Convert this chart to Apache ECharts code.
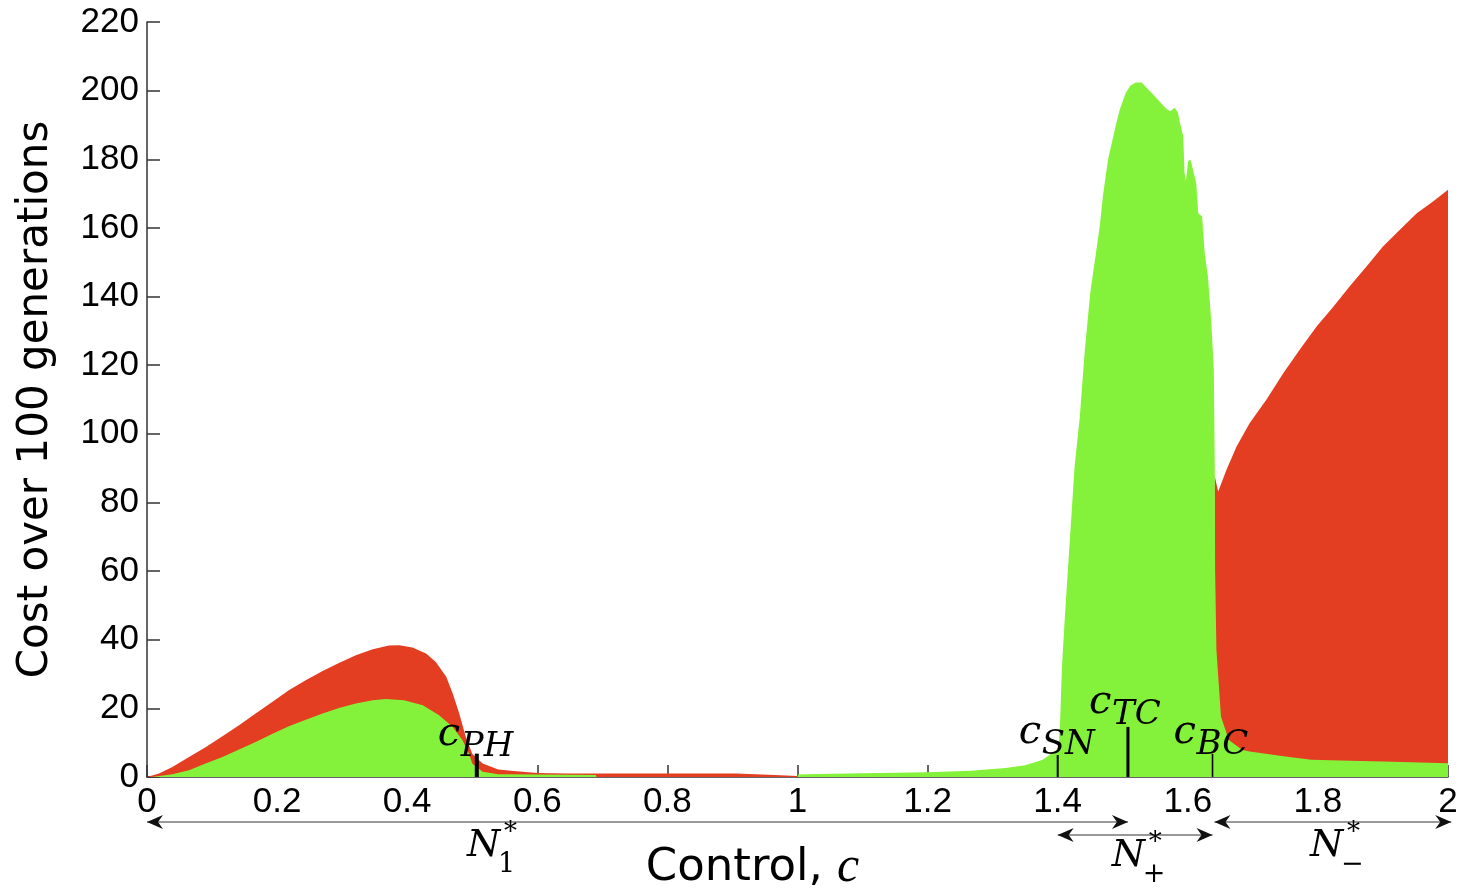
<!DOCTYPE html>
<html><head><meta charset="utf-8">
<script src="https://cdn.jsdelivr.net/npm/echarts@6/dist/echarts.min.js"></script>
<style>html,body{margin:0;padding:0;background:#fff}#c{width:1464px;height:892px}</style>
</head><body><div id="c"></div>
<script>
// ---- data ----
const redCost = [[0,0],[0.0185,1.0],[0.039,2.9],[0.0646,5.8],[0.09,8.7],[0.116,11.9],[0.1415,15.1],[0.167,18.5],[0.193,21.9],[0.218,25.3],[0.244,28.2],[0.27,30.9],[0.295,33.2],[0.321,35.5],[0.347,37.2],[0.372,38.3],[0.388,38.4],[0.408,37.7],[0.429,36],[0.444,33.5],[0.46,29.2],[0.47,24.3],[0.48,18.5],[0.49,11.7],[0.5,6.8],[0.516,3.9],[0.54,2.2],[0.568,1.65],[0.6,1.2],[0.644,1.0],[0.906,1.0],[0.907,0.5],[0.974,0.5],[0.975,0.3],[1.0,0.3],[1.001,0],[1.64,0],[1.641,88],[1.6467,83.2],[1.6595,89.5],[1.675,96.3],[1.695,103.1],[1.721,110],[1.747,117.7],[1.772,124.5],[1.798,131.3],[1.824,137.1],[1.849,143],[1.875,148.8],[1.9,154.6],[1.926,159.5],[1.952,164.3],[1.977,167.7],[2,171.1]];
const greenCost = [[0,0],[0.008,0],[0.039,0.8],[0.0646,2],[0.09,3.9],[0.116,5.8],[0.1415,8],[0.167,10.2],[0.193,12.6],[0.218,14.8],[0.244,16.7],[0.27,18.5],[0.295,20.1],[0.321,21.4],[0.347,22.4],[0.367,22.7],[0.395,22.4],[0.424,20.9],[0.449,18],[0.47,14.6],[0.485,10.7],[0.495,6.8],[0.5,3.9],[0.516,1.5],[0.54,0.8],[0.6,0.7],[0.69,0.6],[0.691,0],[1.0,0],[1.001,0.7],[1.03,0.9],[1.1,1.1],[1.2,1.4],[1.266,1.8],[1.32,2.6],[1.35,3.4],[1.377,5],[1.398,7.9],[1.402,9.9],[1.404,17.6],[1.4066,32.2],[1.411,46.7],[1.416,61.3],[1.421,75.9],[1.426,90.5],[1.434,105],[1.4415,124],[1.45,141],[1.4646,160.4],[1.47,170],[1.4774,180],[1.489,189.6],[1.4954,194.5],[1.5046,199.3],[1.512,201.5],[1.52,202.4],[1.529,202.4],[1.547,198.8],[1.567,194.7],[1.573,194],[1.58,195],[1.585,193.5],[1.588,190.6],[1.593,186.7],[1.595,176],[1.597,173.6],[1.6005,179.4],[1.604,179.9],[1.608,177],[1.613,173],[1.616,164.3],[1.622,163.3],[1.626,152.6],[1.631,145.8],[1.636,133],[1.640,118.7],[1.6415,89.5],[1.642,60],[1.644,37],[1.651,17.6],[1.663,10.8],[1.684,7.9],[1.695,7.4],[1.75,6],[1.79,5],[1.85,4.7],[1.9,4.5],[2,4]];
const thresholdNames = ['PH','SN','TC','BC'];
const thresholdC = [0.507, 1.40, 1.508, 1.638];
const thresholdHeight = [6.8, 6.4, 14.6, 6.7];
const regionNames = ['1','+','\u2212'];
const regionFrom = [0, 1.40, 1.641];
const regionTo = [1.508, 1.638, 2.005];

// ---- layout / styles ----
const markerWidth = [4, 2, 3, 1.6];
const labelBaseline = [747, 745, 715, 745];
const arrowY = [822, 835, 822];
const nLabelX = [0.492, 1.483, 1.788];
const nLabelBaseline = [858, 868, 858];
const RED = '#E33E22', GREEN = '#84F23A';

const chart = echarts.init(document.getElementById('c'));
const axisLine = {show:true, lineStyle:{color:'#333', width:1.5}};
chart.setOption({
  animation:false,
  backgroundColor:'#fff',
  grid:{left:147, right:16, top:22, bottom:115, containLabel:false, outerBoundsMode:'none'},
  xAxis:{type:'value', min:0, max:2, interval:0.2,
    axisLine:axisLine, splitLine:{show:false},
    axisTick:{show:true, inside:true, length:12, lineStyle:{color:'#333', width:1.5}},
    axisLabel:{color:'#000', fontFamily:'Liberation Sans', fontSize:35, margin:8},
    name:'{a|Control, }{b|c}', nameLocation:'middle', nameGap:66, nameMoveOverlap:false,
    nameTextStyle:{padding:[0,90,0,0], rich:{a:{fontFamily:'DejaVu Sans', fontSize:45, color:'#000'}, b:{fontFamily:'Liberation Serif', fontStyle:'italic', fontSize:50, color:'#000'}}}
  },
  yAxis:{type:'value', min:0, max:220, interval:20,
    axisLine:axisLine, splitLine:{show:false},
    axisTick:{show:true, inside:true, length:13, lineStyle:{color:'#333', width:1.5}},
    axisLabel:{color:'#000', fontFamily:'Liberation Sans', fontSize:35, margin:8},
    name:'Cost over 100 generations', nameLocation:'middle', nameGap:90, nameMoveOverlap:false,
    nameTextStyle:{fontFamily:'DejaVu Sans', fontSize:42, color:'#000'}
  },
  series:[
    {type:'line', data:redCost, showSymbol:false, symbol:'none', lineStyle:{width:0, opacity:0}, areaStyle:{color:RED, opacity:1}, z:2, silent:true},
    {type:'line', data:greenCost, showSymbol:false, symbol:'none', lineStyle:{width:0, opacity:0}, areaStyle:{color:GREEN, opacity:1}, z:3, silent:true}
  ]
});

const P = (x,y)=>chart.convertToPixel({xAxisIndex:0, yAxisIndex:0},[x,y]);
const g = [];
const serif = '"DejaVu Serif"';
function txt(t, x, yMid, size, italic, align){
  g.push({type:'text', z:20, style:{text:t, x:x, y:yMid, fill:'#000', font:(italic?'italic ':'')+size+'px '+serif, align:align||'left', verticalAlign:'middle'}});
}
thresholdNames.forEach((nm,i)=>{
  const b = P(thresholdC[i],0), t = P(thresholdC[i],thresholdHeight[i]);
  g.push({type:'line', z:15, shape:{x1:b[0],y1:b[1],x2:t[0],y2:t[1]}, style:{stroke:'#000', lineWidth:markerWidth[i]}});
  const cx = b[0]-39;
  txt('c', cx, labelBaseline[i]-0.3*40, 40, true);
  txt(nm, cx+23, labelBaseline[i]+10-0.3*34, 34, true);
});
function head(tx,ty,dir){
  const L=16, W=7, N=11;
  g.push({type:'polygon', z:15, shape:{points:[[tx,ty],[tx-dir*L,ty-W],[tx-dir*N,ty],[tx-dir*L,ty+W]]}, style:{fill:'#111'}});
}
regionNames.forEach((nm,i)=>{
  const a = P(regionFrom[i],0)[0], b = P(regionTo[i],0)[0], y = arrowY[i];
  g.push({type:'line', z:14, shape:{x1:a,y1:y,x2:b,y2:y}, style:{stroke:'#999', lineWidth:2}});
  head(a,y,-1); head(b,y,1);
  const nx = P(nLabelX[i],0)[0], nb = nLabelBaseline[i];
  txt('N', nx, nb-0.3*38, 38, true);
  txt('*', nx+37, nb-25, 26, false);
  txt(nm, nx+31, nb+7, 27, false);
});
chart.setOption({graphic:g});
</script></body></html>
